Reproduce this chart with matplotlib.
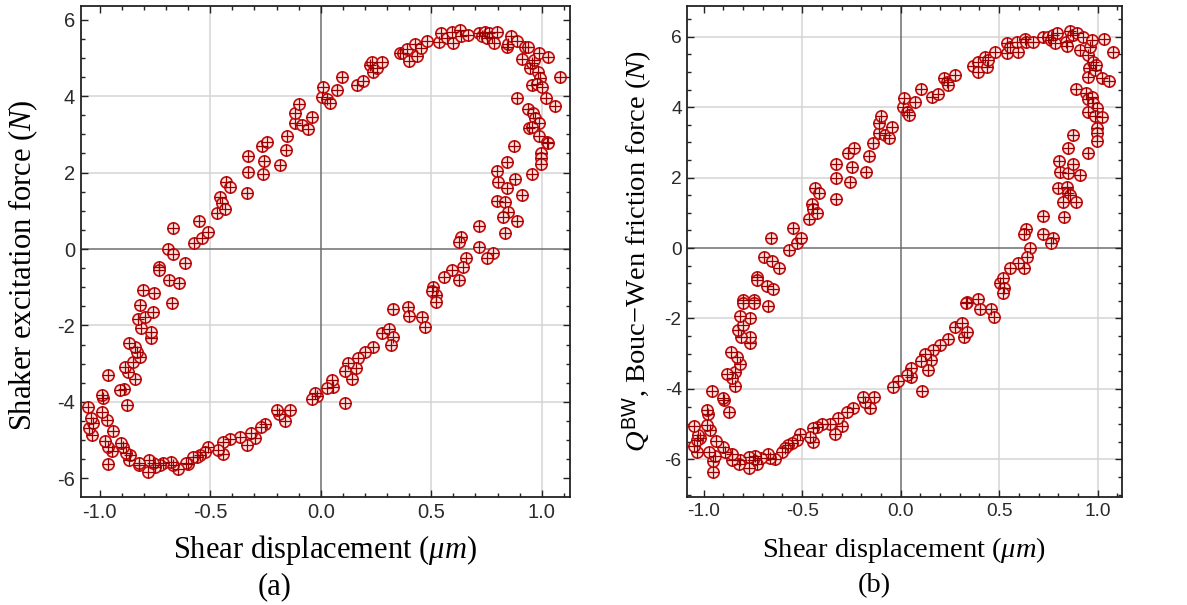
import matplotlib
matplotlib.use("Agg")
import matplotlib.pyplot as plt
from matplotlib.ticker import MultipleLocator, FixedLocator
import numpy as np

plt.rcParams['font.family'] = ['Liberation Sans', 'DejaVu Sans']
plt.rcParams['mathtext.fontset'] = 'custom'
plt.rcParams['mathtext.rm'] = 'Liberation Serif'
plt.rcParams['mathtext.it'] = 'Liberation Serif:italic'
plt.rcParams['mathtext.bf'] = 'Liberation Serif:bold'
plt.rcParams['mathtext.sf'] = 'Liberation Sans'
plt.rcParams['axes.unicode_minus'] = False

# ---------------- Panel (a): measured shaker excitation force ----------------
disp_a = [
    -0.806, -0.753, -0.692, -0.667, -0.667, -0.733, -0.731, -0.685, -0.643, -0.614,
    -0.573, -0.551, -0.539, -0.509, -0.468, -0.456, -0.446, -0.433, -0.430, -0.410,
    -0.335, -0.330, -0.329, -0.267, -0.260, -0.255, -0.244, -0.184, -0.157, -0.151,
    -0.116, -0.115, -0.098, -0.086, -0.056, -0.041, 0.005, 0.012, 0.027, 0.042,
    0.072, 0.098, 0.163, 0.193, 0.223, 0.231, 0.238, 0.253, 0.276, 0.359,
    0.371, 0.389, 0.400, 0.427, 0.437, 0.452, 0.480, 0.537, 0.543, 0.570,
    0.593, 0.600, 0.630, 0.635, 0.668, 0.716, 0.728, 0.743, 0.751, 0.761,
    0.774, 0.786, 0.799, 0.842, 0.849, 0.861, 0.890, 0.912, 0.925, 0.940,
    0.947, 0.955, 0.965, 0.989, 0.985, 0.992, 0.955, 0.977, 1.000, 1.030,
    1.083, 0.890, 1.018, 1.060, 0.939, 0.960, 0.970, 0.989, 0.944, 0.955,
    0.989, 1.023, 1.027, 0.995, 0.995, 0.997, 0.875, 0.845, 0.796, 0.804,
    0.845, 0.879, 0.912, 0.955, 0.796, 0.834, 0.849, 0.824, 0.890, 0.834,
    0.718, 0.635, 0.627, 0.718, 0.778, 0.754, 0.657, 0.642, 0.593, 0.627,
    0.558, 0.510, 0.522, 0.502, 0.520,
    0.329, 0.397, 0.401, 0.457, 0.472, 0.276, 0.310, 0.329, 0.317, 0.238,
    0.200, 0.170, 0.160, 0.140, 0.125, 0.110, 0.110, 0.057, 0.050, 0.027,
    -0.018, -0.026, -0.038, -0.139, -0.162, -0.187, -0.199, -0.252, -0.270, -0.297,
    -0.317, -0.332, -0.365, -0.410, -0.441, -0.444, -0.463, -0.509, -0.524, -0.546,
    -0.560, -0.576, -0.600, -0.609, -0.644, -0.670, -0.677, -0.712, -0.727, -0.750,
    -0.780, -0.757, -0.776, -0.822, -0.822, -0.867, -0.863, -0.882, -0.894, -0.904,
    -0.961, -0.946, -0.961, -0.976, -0.941, -1.036, -1.047, -1.029, -1.039, -0.968,
    -0.991, -1.052, -0.875, -0.987, -0.988, -0.889, -0.908, -0.964, -0.840, -0.870,
    -0.886, -0.848, -0.818, -0.833, -0.840, -0.867, -0.769, -0.769, -0.813, -0.828,
    -0.795, -0.760, -0.818, -0.672,
]
force_a = [
    -1.07, -1.14, 0.00, 0.56, -0.13, -0.48, -0.55, -0.81, -0.90, -0.37,
    0.15, 0.73, 0.29, 0.45, 0.93, 1.35, 1.20, 1.05, 1.76, 1.63,
    1.47, 2.02, 2.44, 2.70, 1.96, 2.31, 2.81, 2.20, 2.59, 2.97,
    3.29, 3.55, 3.80, 3.25, 3.13, 3.46, 3.99, 4.25, 3.92, 3.83,
    4.16, 4.51, 4.29, 4.41, 4.82, 4.90, 4.64, 4.73, 4.89, 5.12,
    5.14, 5.23, 4.92, 5.36, 5.05, 5.25, 5.45, 5.41, 5.65, 5.53,
    5.67, 5.38, 5.73, 5.58, 5.60, 5.65, 5.58, 5.69, 5.51, 5.65,
    5.56, 5.38, 5.67, 5.30, 5.36, 5.58, 5.45, 4.97, 5.30, 5.30,
    4.73, 4.86, 4.95, 5.12, 4.64, 4.47, 4.29, 4.33, 4.23, 5.02,
    4.51, 3.96, 3.96, 3.74, 3.66, 3.56, 3.42, 3.31, 3.16, 3.20,
    2.96, 2.81, 2.77, 2.51, 2.38, 2.23, 2.70, 2.27, 2.04, 1.76,
    1.59, 1.83, 1.41, 1.96, 1.26, 1.24, 0.98, 0.83, 0.74, 0.41,
    0.60, 0.32, 0.19, 0.04, -0.10, -0.24, -0.24, -0.46, -0.55, -0.81,
    -0.72, -0.99, -1.20, -1.09, -1.38,
    -1.58, -1.51, -1.75, -1.77, -2.03, -2.21, -2.10, -2.31, -2.51, -2.57,
    -2.69, -2.86, -3.12, -3.41, -2.98, -3.19, -4.04, -3.62, -3.43, -3.65,
    -3.85, -3.76, -3.93, -4.21, -4.49, -4.31, -4.21, -4.58, -4.65, -4.95,
    -4.82, -5.13, -4.93, -4.96, -5.37, -5.04, -5.26, -5.17, -5.31, -5.39,
    -5.44, -5.45, -5.63, -5.59, -5.77, -5.65, -5.57, -5.60, -5.65, -5.70,
    -5.83, -5.61, -5.52, -5.65, -5.59, -5.52, -5.38, -5.35, -5.18, -5.07,
    -5.63, -5.28, -5.17, -5.02, -4.76, -4.87, -4.69, -4.55, -4.43, -4.48,
    -4.26, -4.13, -4.08, -3.90, -3.82, -3.66, -3.69, -3.30, -3.40, -3.21,
    -3.08, -2.95, -2.82, -2.69, -2.56, -2.45, -2.34, -2.16, -2.08, -1.83,
    -1.77, -1.64, -1.47, -1.41,
]

# ---------------- Panel (b): Bouc-Wen friction force ----------------
disp_b = [
    -0.799, -0.745, -0.731, -0.731, -0.694, -0.680, -0.658, -0.655, -0.647, -0.618,
    -0.567, -0.548, -0.528, -0.506, -0.464, -0.449, -0.444, -0.427, -0.435, -0.413,
    -0.328, -0.328, -0.328, -0.266, -0.257, -0.249, -0.235, -0.178, -0.159, -0.142,
    -0.109, -0.109, -0.100, -0.080, -0.059, -0.042, 0.013, 0.019, 0.030, 0.042,
    0.073, 0.103, 0.161, 0.191, 0.222, 0.233, 0.242, 0.276, 0.369, 0.394,
    0.394, 0.428, 0.436, 0.445, 0.479, 0.541, 0.541, 0.555, 0.597, 0.589,
    0.631, 0.636, 0.673, 0.724, 0.749, 0.761, 0.775, 0.783, 0.795, 0.837,
    0.842, 0.859, 0.873, 0.893, 0.910, 0.927, 0.952, 0.961, 0.969, 0.957,
    0.952, 0.974, 0.986, 0.994, 1.032, 1.020, 1.057, 1.079, 0.890, 0.941,
    0.952, 0.969, 0.978, 0.996, 0.952, 0.986, 1.020, 0.995, 0.995, 0.998,
    0.873, 0.848, 0.805, 0.809, 0.848, 0.876, 0.910, 0.952, 0.797, 0.843,
    0.848, 0.860, 0.826, 0.890, 0.830, 0.721, 0.721, 0.775, 0.762, 0.636,
    0.628, 0.656, 0.640, 0.627, 0.594, 0.555, 0.504, 0.521, 0.524, 0.521,
    0.394, 0.335,
    0.331, 0.403, 0.457, 0.474, 0.276, 0.310, 0.323, 0.338, 0.242, 0.199,
    0.165, 0.154, 0.140, 0.123, 0.102, 0.107, 0.055, 0.051, 0.034, -0.015,
    -0.038, -0.136, -0.156, -0.181, -0.190, -0.240, -0.274, -0.300, -0.317, -0.333,
    -0.359, -0.401, -0.427, -0.444, -0.443, -0.460, -0.511, -0.528, -0.554, -0.571,
    -0.587, -0.604, -0.638, -0.663, -0.672, -0.709, -0.731, -0.739, -0.748, -0.768,
    -0.768, -0.816, -0.819, -0.858, -0.858, -0.892, -0.900, -0.954, -0.951, -0.943,
    -0.972, -1.019, -1.033, -1.048, -1.036, -1.027, -0.938, -0.968, -0.985, -1.048,
    -0.980, -0.985, -0.870, -0.896, -0.900, -0.959, -0.841, -0.841, -0.858, -0.883,
    -0.816, -0.832, -0.863, -0.765, -0.765, -0.812, -0.824, -0.799, -0.765, -0.816,
    -0.672, -0.799, -0.745,
]
force_b = [
    -1.48, -1.48, -0.81, -0.91, -0.26, -1.08, 0.30, -0.36, -1.16, -0.58,
    -0.06, 0.56, 0.15, 0.29, 0.82, 1.25, 1.10, 0.99, 1.70, 1.55,
    1.39, 1.98, 2.39, 2.71, 1.88, 2.31, 2.83, 2.17, 2.61, 2.97,
    3.28, 3.54, 3.76, 3.21, 3.12, 3.45, 4.00, 4.25, 3.87, 3.78,
    4.16, 4.51, 4.28, 4.38, 4.84, 4.72, 4.63, 4.91, 5.17, 5.29,
    5.00, 5.43, 5.15, 5.35, 5.58, 5.81, 5.53, 5.72, 5.58, 5.84,
    5.95, 5.84, 5.86, 5.99, 6.00, 5.91, 6.05, 5.81, 6.12, 5.86,
    5.75, 6.17, 6.05, 6.10, 5.63, 5.99, 5.48, 5.70, 5.90, 5.10,
    4.87, 5.28, 5.06, 5.19, 5.94, 4.82, 4.74, 5.58, 4.51, 4.39,
    4.22, 4.30, 4.13, 3.97, 3.87, 3.75, 3.73, 3.40, 3.26, 3.05,
    3.21, 2.83, 2.48, 2.17, 2.13, 2.39, 2.07, 2.69, 1.71, 1.74,
    1.57, 1.50, 1.30, 1.32, 0.87, 0.91, 0.39, 0.30, 0.14, 0.53,
    0.39, 0.00, -0.25, -0.58, -0.41, -0.58, -0.98, -0.86, -1.12, -1.29,
    -1.45, -1.53,
    -1.57, -1.74, -1.74, -1.95, -2.23, -2.12, -2.52, -2.37, -2.59, -2.74,
    -2.90, -3.18, -3.47, -3.01, -3.21, -4.05, -3.66, -3.42, -3.61, -3.78,
    -3.96, -4.22, -4.55, -4.37, -4.22, -4.55, -4.65, -5.04, -4.82, -5.27,
    -5.01, -5.01, -5.07, -5.12, -5.50, -5.36, -5.27, -5.45, -5.55, -5.60,
    -5.69, -5.79, -6.00, -5.95, -5.85, -5.95, -6.12, -5.91, -6.02, -6.26,
    -5.93, -6.02, -6.12, -6.02, -5.85, -5.78, -5.64, -6.36, -6.05, -5.91,
    -5.79, -5.40, -5.79, -5.63, -5.45, -5.31, -5.47, -5.18, -5.02, -5.06,
    -4.70, -4.60, -4.65, -4.31, -4.27, -4.05, -3.92, -3.51, -3.70, -3.58,
    -3.28, -3.09, -2.95, -2.71, -2.52, -2.54, -2.33, -2.19, -2.00, -1.93,
    -1.65, -1.55, -1.55,
]

x_major = [-1.0, -0.5, 0.0, 0.5, 1.0]
x_grid = [-0.5, 0.5, 1.0]
y_major_a = [-6, -4, -2, 0, 2, 4, 6]
y_grid_a = [-4, -2, 2, 4]
y_major_b = [-6, -4, -2, 0, 2, 4, 6]
y_grid_b = [-6, -4, -2, 2, 4, 6]

W, H = 1187, 605
fig = plt.figure(figsize=(W / 100, H / 100), dpi=100)

def px_rect(l, r, t, b):
    return [l / W, 1 - b / H, (r - l) / W, (b - t) / H]

ax_a = fig.add_axes(px_rect(80.7, 570, 6, 497))
ax_b = fig.add_axes(px_rect(687.3, 1121.7, 6, 497))

serif = ['Liberation Serif', 'DejaVu Serif']

def style(ax, xlim, ylim, y_major, y_grid, tick_fs):
    ax.set_xlim(*xlim)
    ax.set_ylim(*ylim)
    for g in x_grid:
        ax.axvline(g, color='#d4d4d4', lw=1.1, zorder=0)
    for g in y_grid:
        ax.axhline(g, color='#d4d4d4', lw=1.1, zorder=0)
    ax.axvline(0, color='#6e6e6e', lw=1.1, zorder=1)
    ax.axhline(0, color='#6e6e6e', lw=1.1, zorder=1)
    ax.xaxis.set_major_locator(FixedLocator(x_major))
    ax.xaxis.set_minor_locator(MultipleLocator(0.1))
    ax.yaxis.set_major_locator(FixedLocator(y_major))
    ax.yaxis.set_minor_locator(MultipleLocator(0.5))
    ax.set_xticklabels(['%.1f' % v for v in x_major])
    ax.set_yticklabels(['%d' % v for v in y_major])
    ax.tick_params(which='both', direction='in', top=True, right=True,
                   color='#222222', width=1.0)
    ax.tick_params(which='major', length=5.0, labelsize=tick_fs, labelcolor='#2a2a2a', pad=4)
    ax.tick_params(which='minor', length=3.0)
    for s in ax.spines.values():
        s.set_color('#222222')
        s.set_linewidth(1.3)

def scatter(ax, x, y):
    ax.scatter(x, y, s=66, marker='o', facecolor='#fbe6e4', edgecolor='#c40c0c',
               linewidth=1.2, zorder=3)
    ax.scatter(x, y, s=66, marker='+', color='#990000', linewidth=0.9, zorder=4)

style(ax_a, (-1.086, 1.128), (-6.49, 6.36), y_major_a, y_grid_a, 14.5)
style(ax_b, (-1.083, 1.122), (-7.07, 6.875), y_major_b, y_grid_b, 13.8)
scatter(ax_a, disp_a, force_a)
scatter(ax_b, disp_b, force_b)

fs_a = 22
fs_b = 20.5
ax_a.text(0.5, -0.108, r'Shear displacement ($\mu m$)', transform=ax_a.transAxes,
          ha='center', va='center', fontsize=fs_a, family=serif)
ax_b.text(0.5, -0.108, r'Shear displacement ($\mu m$)', transform=ax_b.transAxes,
          ha='center', va='center', fontsize=fs_b, family=serif)
ax_a.text(-0.118, 0.472, r'Shaker excitation force ($N$)', transform=ax_a.transAxes,
          ha='center', va='center', rotation=90, fontsize=fs_a, family=serif)
ax_b.text(-0.115, 0.50, r'$Q^{\mathsf{BW}}$, Bouc$-$Wen friction force ($N$)',
          transform=ax_b.transAxes, ha='center', va='center', rotation=90,
          fontsize=fs_b, family=serif)

fig.text(275 / W, 1 - 587 / H, '(a)', ha='center', va='center', fontsize=fs_a, family=serif)
fig.text(874 / W, 1 - 586 / H, '(b)', ha='center', va='center', fontsize=fs_b, family=serif)

fig.savefig('out.png', dpi=100)
